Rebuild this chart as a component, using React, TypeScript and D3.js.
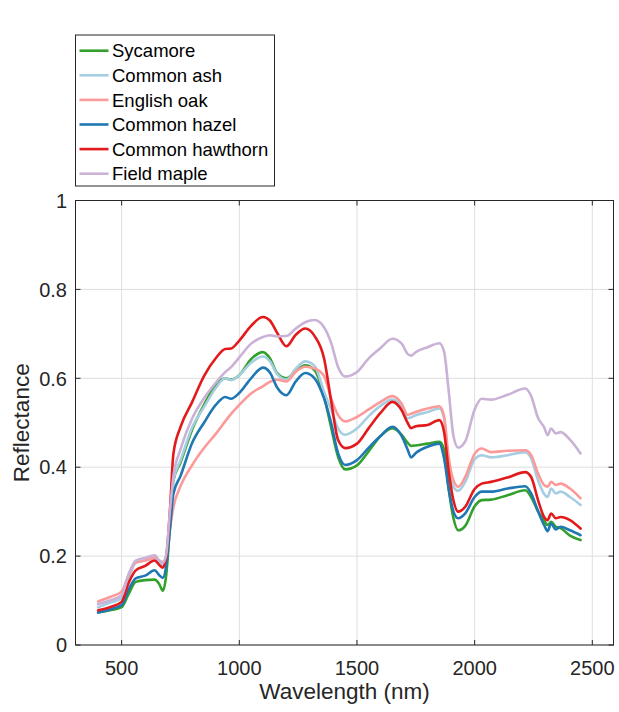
import React from "react";
import * as d3 from "d3";

const wavelengths = [400, 450, 500, 530, 560, 600, 640, 660, 675, 690, 705, 720, 750, 800, 850, 900, 940, 965, 1000, 1050, 1100, 1130, 1160, 1200, 1240, 1280, 1320, 1360, 1390, 1420, 1450, 1500, 1550, 1600, 1650, 1690, 1715, 1730, 1750, 1800, 1850, 1870, 1890, 1910, 1930, 1960, 2000, 2030, 2070, 2140, 2215, 2240, 2270, 2295, 2310, 2325, 2345, 2365, 2405, 2450];

const sycamore = [0.073, 0.078, 0.085, 0.115, 0.142, 0.146, 0.147, 0.137, 0.122, 0.16, 0.266, 0.37, 0.41, 0.485, 0.54, 0.585, 0.6, 0.597, 0.607, 0.643, 0.659, 0.645, 0.612, 0.6, 0.616, 0.629, 0.618, 0.56, 0.49, 0.423, 0.395, 0.404, 0.436, 0.47, 0.488, 0.473, 0.455, 0.448, 0.449, 0.453, 0.457, 0.44, 0.35, 0.285, 0.258, 0.268, 0.312, 0.326, 0.327, 0.337, 0.348, 0.333, 0.3, 0.28, 0.27, 0.277, 0.266, 0.263, 0.246, 0.236];
const commonAsh = [0.085, 0.095, 0.105, 0.15, 0.185, 0.19, 0.195, 0.185, 0.18, 0.2, 0.266, 0.37, 0.415, 0.49, 0.535, 0.578, 0.6, 0.596, 0.607, 0.635, 0.649, 0.638, 0.61, 0.597, 0.622, 0.638, 0.628, 0.57, 0.53, 0.487, 0.473, 0.487, 0.515, 0.538, 0.552, 0.535, 0.51, 0.512, 0.517, 0.524, 0.532, 0.51, 0.4, 0.355, 0.347, 0.367, 0.418, 0.427, 0.422, 0.427, 0.434, 0.42, 0.37, 0.34, 0.333, 0.352, 0.341, 0.345, 0.333, 0.315];
const englishOak = [0.098, 0.108, 0.12, 0.158, 0.186, 0.19, 0.197, 0.19, 0.187, 0.2, 0.26, 0.31, 0.357, 0.405, 0.443, 0.475, 0.503, 0.52, 0.54, 0.566, 0.582, 0.592, 0.597, 0.593, 0.615, 0.626, 0.622, 0.605, 0.555, 0.517, 0.503, 0.513, 0.53, 0.547, 0.56, 0.543, 0.518, 0.52, 0.524, 0.532, 0.537, 0.515, 0.42, 0.37, 0.356, 0.378, 0.43, 0.442, 0.434, 0.437, 0.438, 0.427, 0.385, 0.36, 0.356, 0.367, 0.36, 0.363, 0.352, 0.33];
const commonHazel = [0.073, 0.08, 0.09, 0.125, 0.15, 0.156, 0.168, 0.157, 0.151, 0.18, 0.258, 0.34, 0.38, 0.455, 0.5, 0.54, 0.558, 0.554, 0.567, 0.6, 0.624, 0.613, 0.58, 0.562, 0.593, 0.612, 0.6, 0.555, 0.5, 0.431, 0.405, 0.416, 0.444, 0.47, 0.491, 0.47, 0.44, 0.422, 0.432, 0.446, 0.453, 0.42, 0.35, 0.3, 0.285, 0.296, 0.333, 0.345, 0.345, 0.352, 0.357, 0.341, 0.3, 0.27, 0.256, 0.273, 0.26, 0.266, 0.258, 0.247];
const commonHawthorn = [0.078, 0.085, 0.097, 0.14, 0.168, 0.178, 0.19, 0.18, 0.174, 0.2, 0.3, 0.43, 0.49, 0.547, 0.605, 0.645, 0.666, 0.667, 0.685, 0.718, 0.738, 0.73, 0.703, 0.672, 0.698, 0.712, 0.695, 0.645, 0.55, 0.461, 0.443, 0.453, 0.488, 0.522, 0.547, 0.528, 0.5, 0.488, 0.492, 0.495, 0.506, 0.48, 0.39, 0.325, 0.3, 0.311, 0.351, 0.363, 0.367, 0.377, 0.389, 0.378, 0.325, 0.288, 0.281, 0.296, 0.285, 0.288, 0.281, 0.262];
const fieldMaple = [0.092, 0.1, 0.112, 0.16, 0.19, 0.196, 0.202, 0.19, 0.185, 0.205, 0.3, 0.38, 0.44, 0.51, 0.555, 0.59, 0.614, 0.625, 0.647, 0.678, 0.693, 0.697, 0.694, 0.695, 0.712, 0.726, 0.731, 0.715, 0.68, 0.625, 0.604, 0.614, 0.645, 0.668, 0.689, 0.678, 0.655, 0.651, 0.659, 0.67, 0.679, 0.66, 0.57, 0.47, 0.444, 0.458, 0.53, 0.554, 0.552, 0.563, 0.577, 0.56, 0.51, 0.49, 0.472, 0.487, 0.476, 0.479, 0.462, 0.431];

const seriesNames = ["Sycamore", "Common ash", "English oak", "Common hazel", "Common hawthorn", "Field maple"];
const seriesValues = [sycamore, commonAsh, englishOak, commonHazel, commonHawthorn, fieldMaple];
const seriesColors = ["#33a02c", "#a6cee3", "#fb9a99", "#1f78b4", "#e31a1c", "#cab2d6"];

const xTicks = [500, 1000, 1500, 2000, 2500];
const yTicks = [0, 0.2, 0.4, 0.6, 0.8, 1];

const W = 619;
const H = 712;
const L = 75.5, R = 613.5, T = 200.5, B = 645;
const FONT = "'Liberation Sans', Arial, Helvetica, sans-serif";
const AXIS = "#262626";

export default function App() {
  const x = d3.scaleLinear().domain([304, 2590]).range([L, R]);
  const y = d3.scaleLinear().domain([0, 1]).range([B, T]);
  const line = d3
    .line<[number, number]>()
    .x((d) => x(d[0]))
    .y((d) => y(d[1]))
    .curve(d3.curveMonotoneX);

  const tickLen = 5;
  const legX = 75.5, legY = 35, legW = 199, legH = 151;
  const rowH = 24.6;

  return (
    <svg
      width={W}
      height={H}
      style={{ position: "absolute", left: 0, top: 0, background: "#fff" }}
      fontFamily={FONT}
    >
      <rect x={0} y={0} width={W} height={H} fill="#fff" />
      {/* grid */}
      {xTicks.map((t) => (
        <line key={"gx" + t} x1={x(t)} x2={x(t)} y1={T} y2={B} stroke="#dedede" strokeWidth={1} />
      ))}
      {yTicks.map((t) => (
        <line key={"gy" + t} x1={L} x2={R} y1={y(t)} y2={y(t)} stroke="#dedede" strokeWidth={1} />
      ))}
      {/* series */}
      {seriesValues.map((vals, i) => (
        <path
          key={seriesNames[i]}
          d={line(wavelengths.map((w, j) => [w, vals[j]] as [number, number])) || ""}
          fill="none"
          stroke={seriesColors[i]}
          strokeWidth={2.6}
          strokeLinejoin="round"
          strokeLinecap="round"
        />
      ))}
      {/* axes box */}
      <rect x={L} y={T} width={R - L} height={B - T} fill="none" stroke={AXIS} strokeWidth={1} />
      {xTicks.map((t) => (
        <g key={"tx" + t}>
          <line x1={x(t)} x2={x(t)} y1={B} y2={B - tickLen} stroke={AXIS} />
          <line x1={x(t)} x2={x(t)} y1={T} y2={T + tickLen} stroke={AXIS} />
          <text x={x(t)} y={B + 30} textAnchor="middle" fontSize={20} fill={AXIS}>
            {t}
          </text>
        </g>
      ))}
      {yTicks.map((t) => (
        <g key={"ty" + t}>
          <line x1={L} x2={L + tickLen} y1={y(t)} y2={y(t)} stroke={AXIS} />
          <line x1={R} x2={R - tickLen} y1={y(t)} y2={y(t)} stroke={AXIS} />
          <text x={L - 8.5} y={y(t)} dy="0.36em" textAnchor="end" fontSize={20} fill={AXIS}>
            {d3.format("~g")(t)}
          </text>
        </g>
      ))}
      <text x={(L + R) / 2} y={699} textAnchor="middle" fontSize={22.5} fill={AXIS}>
        Wavelength (nm)
      </text>
      <text
        transform={`translate(29,${(T + B) / 2}) rotate(-90)`}
        textAnchor="middle"
        fontSize={22.5}
        fill={AXIS}
      >
        Reflectance
      </text>
      {/* legend */}
      <rect x={legX} y={legY} width={legW} height={legH} fill="#fff" stroke={AXIS} strokeWidth={1} />
      {seriesNames.map((n, i) => {
        const cy = 50.7 + i * rowH;
        return (
          <g key={"leg" + n}>
            <line x1={79.5} x2={108.5} y1={cy} y2={cy} stroke={seriesColors[i]} strokeWidth={2.6} />
            <text x={112} y={cy} dy="0.36em" fontSize={18.5} fill="#000">
              {n}
            </text>
          </g>
        );
      })}
    </svg>
  );
}
